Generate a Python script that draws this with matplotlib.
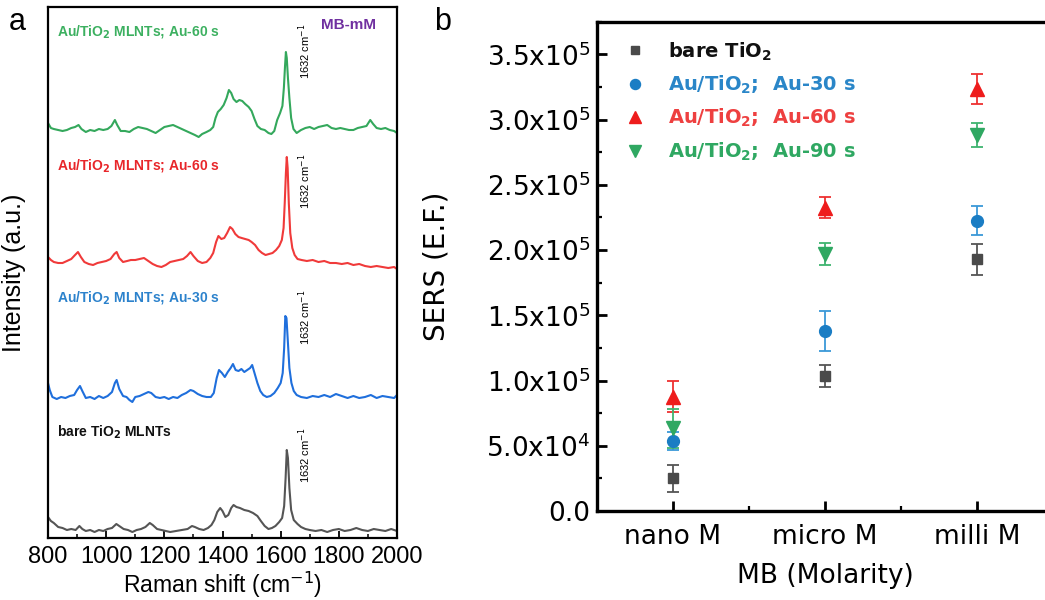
import matplotlib
matplotlib.use('Agg')
import matplotlib.pyplot as plt
from matplotlib.lines import Line2D
from matplotlib.ticker import FixedLocator, MultipleLocator, NullLocator
import numpy as np

# ---- panel a: Raman spectra (Raman shift, intensity a.u.) ----
bare_spec = [(800,21),(810,17),(820,15),(835,11),(850,10),(865,8),(880,9),(895,8),(908,12),(918,9),
             (930,7),(945,8),(960,6),(975,8),(990,7),(1005,9),(1020,10),(1035,14),(1045,12),(1060,9),
             (1075,8),(1090,6),(1105,8),(1120,9),(1135,11),(1150,15),(1160,13),(1175,9),(1190,8),(1205,7),
             (1220,6),(1240,7),(1260,8),(1280,9),(1295,12),(1305,11),(1320,9),(1335,8),(1350,10),(1362,13),
             (1372,18),(1382,26),(1392,30),(1400,27),(1410,21),(1420,23),(1430,30),(1438,33),(1448,31),(1460,30),
             (1475,28),(1490,27),(1505,25),(1520,22),(1532,17),(1545,12),(1558,9),(1570,10),(1582,12),(1595,16),
             (1605,20),(1612,32),(1617,60),(1621,88),(1625,80),(1630,50),(1636,28),(1645,18),(1658,14),(1670,11),
             (1685,9),(1700,8),(1720,7),(1740,8),(1760,6),(1780,8),(1800,9),(1820,7),(1840,8),(1860,10),
             (1880,8),(1900,7),(1920,9),(1940,8),(1960,7),(1980,9),(2000,7)]
au30_spec = [(800,155),(806,148),(815,141),(830,139),(845,141),(860,140),(875,142),(890,143),(900,148),(910,152),
             (918,147),(930,140),(945,141),(960,139),(975,142),(990,140),(1005,142),(1020,146),(1030,155),(1036,158),
             (1045,149),(1058,142),(1070,141),(1080,138),(1090,136),(1100,141),(1115,142),(1130,144),(1145,146),(1155,145),
             (1170,141),(1185,140),(1200,141),(1215,139),(1230,141),(1245,140),(1260,143),(1275,145),(1290,148),(1300,147),
             (1315,144),(1330,142),(1345,141),(1360,141),(1370,145),(1380,160),(1388,168),(1398,165),(1408,161),(1418,166),
             (1428,170),(1436,174),(1445,168),(1455,167),(1465,169),(1475,166),(1485,168),(1495,170),(1502,173),(1510,165),
             (1520,155),(1530,147),(1540,143),(1552,141),(1565,142),(1578,145),(1590,150),(1600,155),(1607,165),(1612,190),
             (1616,222),(1620,220),(1625,195),(1630,170),(1637,155),(1645,147),(1655,143),(1670,141),(1690,140),(1710,142),
             (1730,141),(1750,143),(1770,141),(1790,144),(1810,142),(1830,140),(1850,142),(1870,140),(1890,141),(1910,143),
             (1930,140),(1950,142),(1970,141),(1990,140),(2000,143)]
au60_spec = [(800,281),(810,278),(820,276),(835,275),(850,275),(865,277),(880,279),(893,283),(903,286),(913,281),
             (925,276),(940,274),(955,273),(970,275),(985,276),(1000,277),(1015,279),(1028,284),(1036,286),(1045,280),
             (1058,276),(1072,277),(1085,278),(1100,278),(1115,279),(1130,280),(1145,277),(1160,274),(1175,272),(1190,271),
             (1205,273),(1220,276),(1235,277),(1250,278),(1265,279),(1278,282),(1290,286),(1300,282),(1315,277),(1330,275),
             (1345,276),(1358,280),(1368,285),(1378,296),(1386,302),(1396,299),(1406,300),(1416,305),(1426,311),(1434,309),
             (1444,304),(1455,301),(1466,300),(1478,299),(1490,298),(1500,296),(1512,293),(1524,288),(1536,285),(1548,283),
             (1560,284),(1572,285),(1584,288),(1595,292),(1604,298),(1610,310),(1614,335),(1618,365),(1621,381),(1624,370),
             (1628,335),(1633,305),(1640,290),(1648,283),(1658,279),(1672,278),(1690,277),(1710,278),(1730,276),(1750,277),
             (1770,275),(1790,275),(1810,274),(1830,275),(1850,273),(1870,274),(1890,272),(1910,271),(1930,272),(1950,271),
             (1970,270),(1990,271),(2000,269)]
au60mm_spec = [(800,415),(810,410),(820,409),(835,408),(850,407),(865,408),(880,410),(893,411),(905,413),(915,409),
               (930,406),(945,408),(960,407),(975,409),(990,408),(1005,409),(1018,412),(1030,418),(1038,413),(1050,407),
               (1065,407),(1080,406),(1095,409),(1110,411),(1125,410),(1140,409),(1155,407),(1170,405),(1185,408),(1200,411),
               (1215,412),(1230,413),(1245,411),(1260,409),(1275,407),(1290,405),(1305,403),(1318,401),(1330,404),(1345,406),
               (1358,408),(1368,411),(1376,420),(1384,426),(1394,429),(1404,433),(1414,440),(1422,448),(1430,445),(1438,439),
               (1448,436),(1458,438),(1468,437),(1478,434),(1490,431),(1500,427),(1510,419),(1520,412),(1532,409),(1545,408),
               (1558,405),(1568,404),(1578,407),(1588,418),(1598,425),(1606,432),(1611,450),(1615,472),(1618,486),(1621,480),
               (1625,460),(1630,440),(1636,420),(1644,409),(1655,405),(1670,408),(1685,410),(1700,411),(1715,409),(1730,411),
               (1745,412),(1760,413),(1775,410),(1790,409),(1805,410),(1820,409),(1835,408),(1850,408),(1865,410),(1880,411),
               (1895,412),(1908,418),(1918,414),(1930,410),(1945,409),(1960,410),(1975,408),(1990,407),(2000,405)]

spec_labels = ['bare TiO$_\\mathbf{2}$ MLNTs', 'Au/TiO$_\\mathbf{2}$ MLNTs; Au-30 s',
               'Au/TiO$_\\mathbf{2}$ MLNTs; Au-60 s', 'Au/TiO$_\\mathbf{2}$ MLNTs; Au-60 s']
spec_colors = ['#555555', '#1f6fdc', '#f03a3a', '#34a85c']
label_colors = ['#111111', '#2c82cc', '#e8262a', '#3cb060']
label_y = [106, 240, 372, 506]
peak_note_y = [83, 221, 357, 487]

# ---- panel b: SERS enhancement factor ----
conc = ['nano M', 'micro M', 'milli M']
ef_bare = [2.5e4, 1.035e5, 1.93e5]
ef_bare_err = [1.05e4, 8.5e3, 1.2e4]
ef_au30 = [5.35e4, 1.38e5, 2.225e5]
ef_au30_err = [7e3, 1.5e4, 1.12e4]
ef_au60 = [8.75e4, 2.325e5, 3.236e5]
ef_au60_err = [1.2e4, 8e3, 1.15e4]
ef_au90 = [6.33e4, 1.968e5, 2.88e5]
ef_au90_err = [1.5e4, 8.5e3, 9e3]

fig = plt.figure(figsize=(10.45, 6.0), dpi=100)
W, H = 1045, 600

# panel a
ax = fig.add_axes([48/W, (H-538)/H, (397-48)/W, (538-7)/H])
for spec, c in zip([bare_spec, au30_spec, au60_spec, au60mm_spec], spec_colors):
    xs, ys = zip(*spec)
    ax.plot(xs, ys, color=c, lw=1.5)
ax.set_xlim(800, 2000); ax.set_ylim(0, 531)
ax.yaxis.set_major_locator(NullLocator())
ax.xaxis.set_major_locator(MultipleLocator(200)); ax.xaxis.set_minor_locator(MultipleLocator(100))
ax.tick_params(axis='x', direction='in', length=5, width=1.3, pad=6, labelsize=17)
ax.tick_params(axis='x', which='minor', direction='in', length=3, width=1.1)
for lb in ax.get_xticklabels(): lb.set_family('Liberation Sans')
for s in ax.spines.values(): s.set_linewidth(1.6)
ax.set_xlabel('Raman shift (cm$^{-1}$)', fontsize=16.5, family='Liberation Sans', va='center')
ax.xaxis.set_label_coords(0.5, -0.088)
ax.set_ylabel('Intensity (a.u.)', fontsize=18, family='Liberation Sans')
ax.yaxis.set_label_coords(-0.063, 0.5)
for t, c, yy, py in zip(spec_labels, label_colors, label_y, peak_note_y):
    ax.text(830, yy, t, color=c, fontsize=10, weight='bold', family='Liberation Sans', va='center', ha='left')
    ax.text(1683, py, '1632 cm$^{-1}$', rotation=90, fontsize=8, family='Liberation Sans', va='center', ha='center')
ax.text(1832, 513, 'MB-mM', color='#7030a0', fontsize=11, weight='bold', family='Liberation Sans', va='center', ha='center')

# panel b
bx = fig.add_axes([597/W, (H-511)/H, (1053-597)/W, (511-21.7)/H])
xpos = np.arange(1, len(conc)+1)
series = [(ef_bare, ef_bare_err, 's', 7, '#4a4a4a', '#555555'),
          (ef_au30, ef_au30_err, 'o', 8.5, '#1a7dc4', '#3a98d8'),
          (ef_au60, ef_au60_err, '^', 10.5, '#ee1c1c', '#ee3030'),
          (ef_au90, ef_au90_err, 'v', 10.5, '#2fa862', '#3fb470')]
for vals, err, m, ms, c, ec in series:
    bx.errorbar(xpos, vals, yerr=err, fmt=m, ms=ms, color=c, ecolor=ec, elinewidth=1.3,
                capsize=4, capthick=1.3, zorder=3)
bx.set_xlim(0.5, 3.5); bx.set_ylim(0, 3.75e5)
bx.xaxis.set_major_locator(FixedLocator(xpos)); bx.set_xticklabels(conc)
bx.xaxis.set_minor_locator(FixedLocator([1.5, 2.5]))
yt = [0, 5e4, 1e5, 1.5e5, 2e5, 2.5e5, 3e5, 3.5e5]
ytl = ['0.0', '5.0x10$^4$', '1.0x10$^5$', '1.5x10$^5$', '2.0x10$^5$', '2.5x10$^5$', '3.0x10$^5$', '3.5x10$^5$']
bx.set_yticks(yt); bx.set_yticklabels(ytl)
bx.yaxis.set_minor_locator(MultipleLocator(2.5e4))
bx.tick_params(direction='in', length=7, width=2, labelsize=19)
bx.tick_params(axis='x', pad=9); bx.tick_params(axis='y', pad=5)
bx.tick_params(which='minor', direction='in', length=3.5, width=1.6)
for s in bx.spines.values(): s.set_linewidth(2.4)
bx.spines['right'].set_visible(False)
bx.set_xlabel('MB (Molarity)', fontsize=19)
bx.xaxis.set_label_coords(0.5, -0.106)
bx.set_ylabel('SERS (E.F.)', fontsize=20)
bx.yaxis.set_label_coords(-0.322, 0.5)

leg_labels = ['bare TiO$_\\mathbf{2}$', 'Au/TiO$_\\mathbf{2}$;  Au-30 s',
              'Au/TiO$_\\mathbf{2}$;  Au-60 s', 'Au/TiO$_\\mathbf{2}$;  Au-90 s']
leg_text_colors = ['#111111', '#2a86c8', '#ee4040', '#2fa862']
handles = [Line2D([], [], ls='none', marker=m, ms=ms*0.85, color=c) for _, _, m, ms, c, _ in series]
leg = bx.legend(handles, leg_labels, loc='upper left', bbox_to_anchor=(0.061, 0.962), frameon=False,
                prop={'weight': 'bold', 'size': 14}, handlelength=1.0, handletextpad=1.2,
                labelspacing=0.57, borderpad=0, borderaxespad=0)
for t, c in zip(leg.get_texts(), leg_text_colors): t.set_color(c)

fig.text(17/W, 1-22/H, 'a', fontsize=22, family='Liberation Sans', va='center', ha='center')
fig.text(443/W, 1-22/H, 'b', fontsize=22, family='Liberation Sans', va='center', ha='center')

fig.savefig('out.png', dpi=100)
